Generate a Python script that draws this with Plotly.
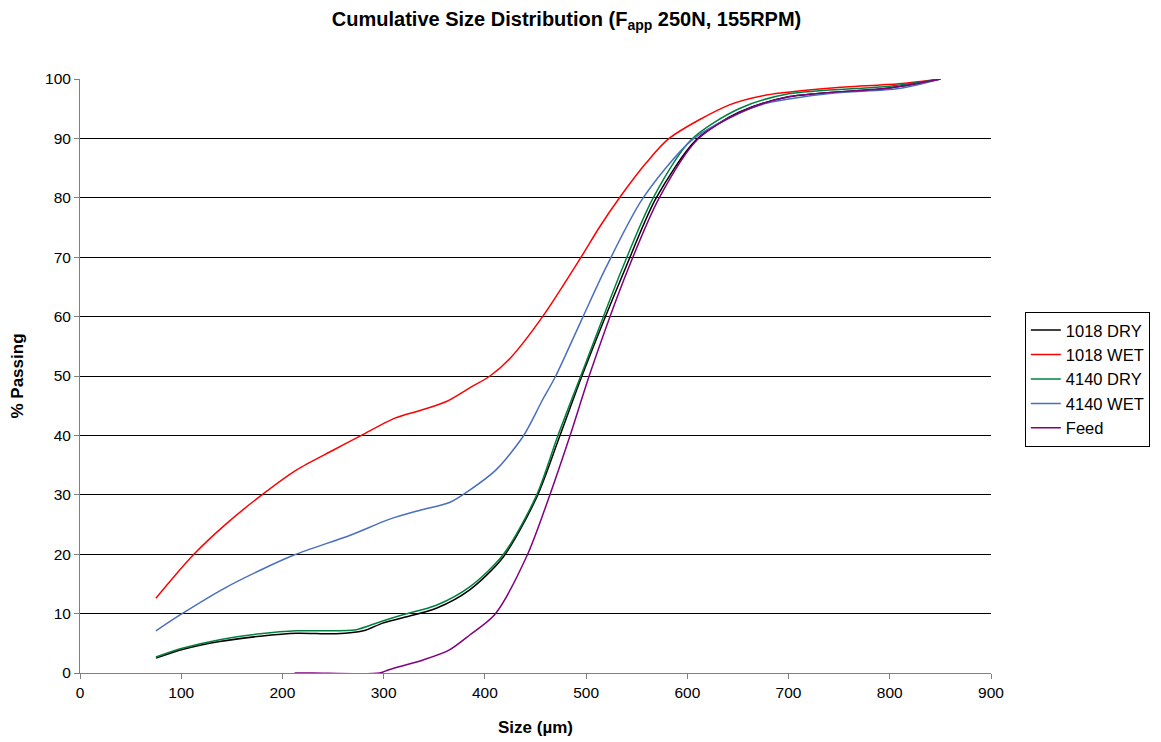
import plotly.graph_objects as go

# 1018 DRY
x_1018_dry = [75, 102, 138, 178, 214, 253, 280, 299, 319, 352, 385, 418, 451, 474, 497, 538, 569, 609, 651, 700, 800, 850]
y_1018_dry = [2.5, 4.0, 5.3, 6.2, 6.7, 6.6, 7.1, 8.4, 9.3, 10.9, 14.0, 19.5, 29.5, 39.9, 50.5, 67.8, 79.9, 89.8, 94.4, 97.0, 98.5, 100]

# 1018 WET
x_1018_wet = [75, 112, 143, 179, 214, 250, 278, 311, 336, 362, 385, 405, 425, 457, 495, 513, 533, 559, 582, 641, 678, 743, 809, 850]
y_1018_wet = [12.6, 19.9, 24.9, 29.9, 34.2, 37.5, 40.0, 42.9, 44.2, 45.7, 48.0, 50.0, 53.0, 60.0, 70.0, 75.0, 80.0, 85.8, 90.0, 95.6, 97.3, 98.5, 99.2, 100]

# 4140 DRY
x_4140_dry = [75, 102, 138, 178, 214, 240, 273, 296, 319, 352, 385, 418, 451, 472, 497, 535, 566, 604, 651, 700, 800, 850]
y_4140_dry = [2.7, 4.2, 5.6, 6.6, 7.1, 7.1, 7.3, 8.6, 9.8, 11.4, 14.5, 19.9, 29.9, 39.9, 51.0, 67.8, 79.9, 89.8, 95.0, 97.5, 98.8, 100]

# 4140 WET
x_4140_wet = [75, 100, 143, 178, 212, 267, 306, 336, 365, 385, 411, 438, 457, 470, 497, 520, 556, 605, 651, 678, 743, 809, 850]
y_4140_wet = [7.1, 9.9, 14.3, 17.3, 19.9, 23.2, 25.9, 27.4, 28.7, 30.8, 34.2, 39.9, 46.0, 50.0, 60.0, 68.4, 79.9, 89.8, 94.2, 95.9, 97.6, 98.4, 100]

# Feed
x_feed = [212, 230, 296, 306, 339, 365, 385, 410, 442, 464, 484, 505, 541, 572, 610, 651, 700, 800, 850]
y_feed = [0, 0, 0, 0.6, 2.2, 3.9, 6.4, 9.9, 19.9, 29.9, 39.9, 51.0, 67.8, 79.9, 89.8, 94.3, 97.0, 98.5, 100]

series = [
    ("1018 DRY", x_1018_dry, y_1018_dry, "#000000"),
    ("1018 WET", x_1018_wet, y_1018_wet, "#FF0000"),
    ("4140 DRY", x_4140_dry, y_4140_dry, "#008040"),
    ("4140 WET", x_4140_wet, y_4140_wet, "#4A6FC0"),
    ("Feed", x_feed, y_feed, "#800080"),
]

x_ticks = list(range(0, 901, 100))
y_ticks = list(range(0, 101, 10))

FONT = "Liberation Sans, Arial, sans-serif"

fig = go.Figure()
for name, xs, ys, col in series:
    fig.add_trace(go.Scatter(x=xs, y=ys, name=name, mode="lines",
                             line=dict(color=col, width=1.5, shape="spline", smoothing=0.8)))

fig.update_layout(
    width=1161, height=742,
    margin=dict(l=80, r=169, t=79, b=69),
    paper_bgcolor="white", plot_bgcolor="white",
    font=dict(family=FONT, size=15, color="black"),
    title=dict(text="<b>Cumulative Size Distribution (F<sub>app</sub> 250N, 155RPM)</b>",
               x=0.488, xanchor="center", y=0.975, yanchor="middle",
               font=dict(family=FONT, size=20, color="black")),
    legend=dict(x=1.036, xanchor="left", y=0.608, yanchor="top",
                bordercolor="black", borderwidth=1, bgcolor="white",
                font=dict(family=FONT, size=16.5, color="black"),
                tracegroupgap=0, itemwidth=30),
    xaxis=dict(range=[0, 900], tickvals=x_ticks, ticktext=[str(v) for v in x_ticks],
               showgrid=False, zeroline=False, showline=True, linecolor="#808080", linewidth=1,
               ticks="outside", ticklen=5, tickcolor="#808080", automargin=False,
               title=dict(text="<b>Size (µm)</b>", font=dict(family=FONT, size=17), standoff=21),
               tickfont=dict(family=FONT, size=15.5)),
    yaxis=dict(range=[0, 100], tickvals=y_ticks, ticktext=[str(v) for v in y_ticks],
               showgrid=True, gridcolor="#000000", gridwidth=1,
               zeroline=False, showline=True, linecolor="#808080", linewidth=1,
               ticks="outside", ticklen=5, tickcolor="#808080", automargin=False,
               title=dict(text="<b>% Passing</b>", font=dict(family=FONT, size=17), standoff=17),
               tickfont=dict(family=FONT, size=15.5)),
)

fig.write_html("out.html")
